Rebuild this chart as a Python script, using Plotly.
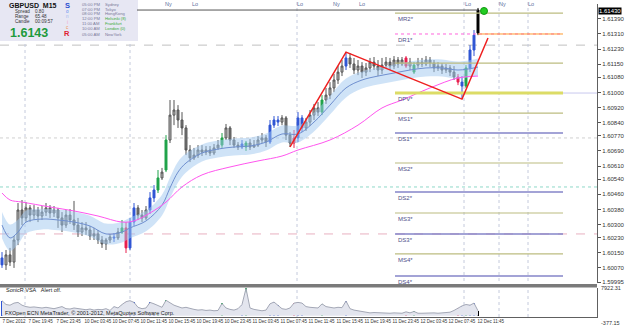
import plotly.graph_objects as go

# ---------------- data ----------------
open_ = [1.60123, 1.60086, 1.60139, 1.60101, 1.60218, 1.60377, 1.60335, 1.60388, 1.60350, 1.60377,
         1.60345, 1.60366, 1.60388, 1.60361, 1.60377, 1.60335, 1.60297, 1.60350, 1.60324, 1.60297,
         1.60260, 1.60282, 1.60271, 1.60239, 1.60250, 1.60218, 1.60197, 1.60218, 1.60234, 1.60229,
         1.60260, 1.60282, 1.60176, 1.60313, 1.60388, 1.60350, 1.60335, 1.60377, 1.60441, 1.60483,
         1.60547, 1.60589, 1.60748, 1.60880, 1.60907, 1.60854, 1.60812, 1.60695, 1.60653, 1.60668,
         1.60695, 1.60684, 1.60695, 1.60679, 1.60706, 1.60721, 1.60759, 1.60812, 1.60748, 1.60721,
         1.60711, 1.60711, 1.60732, 1.60711, 1.60721, 1.60748, 1.60759, 1.60737, 1.60827, 1.60854,
         1.60843, 1.60865, 1.60774, 1.60732, 1.60759, 1.60865, 1.60812, 1.60843, 1.60880, 1.60918,
         1.60896, 1.60960, 1.60986, 1.61024, 1.61066, 1.61108, 1.61140, 1.61183, 1.61151, 1.61119,
         1.61140, 1.61108, 1.61130, 1.61161, 1.61140, 1.61119, 1.61145, 1.61161, 1.61140, 1.61172,
         1.61151, 1.61183, 1.61140, 1.61108, 1.61145, 1.61161, 1.61151, 1.61172, 1.61156, 1.61130,
         1.61140, 1.61119, 1.61130, 1.61108, 1.61082, 1.61055, 1.61034, 1.61130, 1.61225, 1.61315]
high = [1.60154, 1.60165, 1.60176, 1.60239, 1.60414, 1.60430, 1.60419, 1.60403, 1.60403, 1.60393,
        1.60398, 1.60414, 1.60403, 1.60398, 1.60388, 1.60366, 1.60377, 1.60382, 1.60425, 1.60335,
        1.60313, 1.60313, 1.60292, 1.60282, 1.60271, 1.60239, 1.60229, 1.60250, 1.60255, 1.60282,
        1.60324, 1.60313, 1.60335, 1.60414, 1.60403, 1.60377, 1.60398, 1.60472, 1.60509, 1.60589,
        1.60600, 1.60774, 1.60960, 1.60960, 1.60933, 1.60896, 1.60827, 1.60721, 1.60706, 1.60721,
        1.60721, 1.60716, 1.60716, 1.60727, 1.60748, 1.60785, 1.60833, 1.60822, 1.60764, 1.60737,
        1.60748, 1.60743, 1.60753, 1.60748, 1.60769, 1.60785, 1.60774, 1.60854, 1.60875, 1.60875,
        1.60880, 1.60875, 1.60790, 1.60801, 1.60896, 1.60880, 1.60865, 1.60907, 1.60939, 1.60949,
        1.60986, 1.61024, 1.61055, 1.61098, 1.61140, 1.61172, 1.61214, 1.61209, 1.61183, 1.61172,
        1.61161, 1.61156, 1.61183, 1.61188, 1.61172, 1.61183, 1.61188, 1.61183, 1.61193, 1.61188,
        1.61188, 1.61193, 1.61183, 1.61161, 1.61183, 1.61183, 1.61193, 1.61188, 1.61172, 1.61161,
        1.61156, 1.61151, 1.61145, 1.61140, 1.61098, 1.61087, 1.61145, 1.61251, 1.61331, 1.61448]
low = [1.60070, 1.60059, 1.60080, 1.60070, 1.60191, 1.60297, 1.60313, 1.60313, 1.60324, 1.60313,
       1.60324, 1.60345, 1.60335, 1.60340, 1.60282, 1.60260, 1.60282, 1.60303, 1.60271, 1.60234,
       1.60239, 1.60245, 1.60218, 1.60218, 1.60197, 1.60176, 1.60165, 1.60202, 1.60207, 1.60218,
       1.60250, 1.60149, 1.60165, 1.60292, 1.60324, 1.60313, 1.60324, 1.60356, 1.60419, 1.60467,
       1.60536, 1.60578, 1.60732, 1.60827, 1.60812, 1.60774, 1.60668, 1.60631, 1.60642, 1.60653,
       1.60663, 1.60668, 1.60663, 1.60668, 1.60695, 1.60706, 1.60748, 1.60721, 1.60706, 1.60695,
       1.60700, 1.60690, 1.60695, 1.60706, 1.60711, 1.60732, 1.60711, 1.60727, 1.60812, 1.60822,
       1.60827, 1.60748, 1.60711, 1.60706, 1.60737, 1.60790, 1.60796, 1.60822, 1.60854, 1.60875,
       1.60880, 1.60939, 1.60965, 1.61002, 1.61045, 1.61087, 1.61119, 1.61130, 1.61098, 1.61092,
       1.61077, 1.61087, 1.61108, 1.61119, 1.61087, 1.61098, 1.61130, 1.61119, 1.61124, 1.61130,
       1.61140, 1.61130, 1.61119, 1.61098, 1.61130, 1.61135, 1.61140, 1.61135, 1.61108, 1.61114,
       1.61098, 1.61103, 1.61087, 1.61066, 1.61039, 1.60965, 1.61024, 1.61108, 1.61193, 1.61304]
close = [1.60086, 1.60139, 1.60101, 1.60218, 1.60377, 1.60335, 1.60388, 1.60350, 1.60377, 1.60345,
         1.60366, 1.60388, 1.60361, 1.60377, 1.60335, 1.60297, 1.60350, 1.60324, 1.60297, 1.60260,
         1.60282, 1.60271, 1.60239, 1.60250, 1.60218, 1.60197, 1.60218, 1.60234, 1.60229, 1.60260,
         1.60282, 1.60176, 1.60313, 1.60388, 1.60350, 1.60335, 1.60377, 1.60441, 1.60483, 1.60547,
         1.60578, 1.60748, 1.60880, 1.60907, 1.60854, 1.60812, 1.60695, 1.60653, 1.60668, 1.60695,
         1.60684, 1.60695, 1.60679, 1.60706, 1.60721, 1.60759, 1.60812, 1.60748, 1.60721, 1.60711,
         1.60727, 1.60732, 1.60711, 1.60721, 1.60748, 1.60759, 1.60737, 1.60827, 1.60854, 1.60843,
         1.60865, 1.60774, 1.60732, 1.60759, 1.60865, 1.60812, 1.60843, 1.60880, 1.60918, 1.60896,
         1.60960, 1.60986, 1.61024, 1.61066, 1.61108, 1.61140, 1.61183, 1.61151, 1.61119, 1.61140,
         1.61108, 1.61130, 1.61161, 1.61140, 1.61119, 1.61145, 1.61161, 1.61140, 1.61172, 1.61151,
         1.61172, 1.61140, 1.61161, 1.61145, 1.61161, 1.61151, 1.61172, 1.61156, 1.61130, 1.61140,
         1.61119, 1.61130, 1.61108, 1.61082, 1.61055, 1.61034, 1.61130, 1.61225, 1.61304, 1.61437]
# VSA signal per bar: b=blue, g=green, r=red, k=black, .=none
signal = ("b........." ".........." "........b." "grbb...bbg" ".g........"
          ".....g...." "bg.....bbb" "...rbb...." "g.....b..." ".........."
          ".r.g......" "....rbgbbk")
volume = [4300, 3200, 3000, 3600, 3800, 3000, 2600, 2400, 2500, 2300,
          2200, 2400, 2100, 2000, 2300, 2600, 2000, 1900, 2200, 2000,
          1800, 1700, 1900, 1600, 1800, 1700, 2000, 1500, 2600, 2200,
          3200, 4000, 4300, 3800, 2400, 2000, 2200, 3800, 3400, 2800,
          2400, 4400, 3600, 3000, 2600, 2200, 2400, 2000, 1800, 1600,
          1700, 1500, 1600, 1400, 1500, 3500, 2200, 1800, 1600, 2000,
          3200, 7800, 2200, 1800, 1500, 1400, 1600, 3400, 3900, 3000,
          2000, 1800, 2200, 3600, 3800, 3600, 2600, 2400, 2300, 2200,
          3400, 2600, 2400, 2200, 2400, 2300, 4200, 2000, 1600, 1400,
          1000, 900, 800, 900, 800, 700, 800, 700, 800, 700,
          700, 1100, 800, 1200, 700, 700, 800, 700, 800, 700,
          800, 900, 1000, 1500, 2200, 2800, 3200, 3000, 3600, 1400]

ma_idx = [0, 2, 4, 6, 10, 14, 18, 22, 26, 30, 32, 36, 40, 42, 44, 46, 50, 54, 58, 62,
          66, 70, 74, 78, 82, 86, 90, 94, 98, 102, 106, 110, 114, 118, 119]
ma_blue = [1.60297, 1.60229, 1.60260, 1.60313, 1.60329, 1.60324, 1.60313, 1.60292, 1.60250, 1.60260,
           1.60282, 1.60319, 1.60403, 1.60494, 1.60578, 1.60626, 1.60679, 1.60700, 1.60711, 1.60716,
           1.60737, 1.60780, 1.60780, 1.60843, 1.60933, 1.61024, 1.61066, 1.61087, 1.61103, 1.61119,
           1.61130, 1.61130, 1.61119, 1.61130, 1.61135]
band_up = [1.60367, 1.60300, 1.60325, 1.60373, 1.60384, 1.60379, 1.60368, 1.60347, 1.60305, 1.60315,
           1.60337, 1.60374, 1.60458, 1.60549, 1.60633, 1.60676, 1.60724, 1.60745, 1.60756, 1.60761,
           1.60782, 1.60825, 1.60825, 1.60893, 1.60983, 1.61074, 1.61111, 1.61132, 1.61148, 1.61164,
           1.61175, 1.61175, 1.61164, 1.61175, 1.61180]
band_lo = [1.60227, 1.60160, 1.60195, 1.60253, 1.60274, 1.60269, 1.60258, 1.60237, 1.60195, 1.60205,
           1.60227, 1.60264, 1.60348, 1.60439, 1.60523, 1.60576, 1.60634, 1.60655, 1.60666, 1.60671,
           1.60692, 1.60735, 1.60735, 1.60793, 1.60883, 1.60974, 1.61021, 1.61042, 1.61058, 1.61074,
           1.61085, 1.61085, 1.61074, 1.61085, 1.61090]
mag_idx = [0, 2, 5, 12, 18, 24, 30, 33, 37, 41, 45, 50, 57, 64, 70, 74, 82, 89, 95, 100, 107, 114, 119]
ma_mag = [1.60467, 1.60430, 1.60419, 1.60393, 1.60372, 1.60345, 1.60313, 1.60319, 1.60361, 1.60419,
          1.60499, 1.60563, 1.60605, 1.60637, 1.60663, 1.60695, 1.60748, 1.60827, 1.60918, 1.60960,
          1.61024, 1.61077, 1.61087]
zz_idx = [72, 86, 115, 121.5]
zz_val = [1.60711, 1.61214, 1.60965, 1.61289]

pivot_names = ["MR2*", "DR1*", "", "DPV*", "MS1*", "DS1*", "MS2*", "DS2*", "MS3*", "DS3*", "MS4*", "DS4*"]
pivot_vals = [1.61421, 1.61310, 1.61156, 1.60997, 1.60891, 1.60785, 1.60626, 1.60472, 1.60361, 1.60250, 1.60144, 1.60027]

price_ticks = [1.61470, 1.61390, 1.61310, 1.61230, 1.61150, 1.61080, 1.61000, 1.60920, 1.60840, 1.60770,
               1.60690, 1.60610, 1.60540, 1.60460, 1.60380, 1.60300, 1.60230, 1.60150, 1.60070, 1.59995]
time_labels = ["7 Dec 2012", "7 Dec 19:45", "7 Dec 23:45", "10 Dec 03:45", "10 Dec 07:45", "10 Dec 11:45",
               "10 Dec 15:45", "10 Dec 19:45", "10 Dec 23:45", "11 Dec 03:45", "11 Dec 07:45", "11 Dec 11:45",
               "11 Dec 15:45", "11 Dec 19:45", "11 Dec 23:45", "12 Dec 03:45", "12 Dec 07:45", "12 Dec 11:45"]
last_price = 1.61430
vol_max, vol_min = 7922.31, -377.15

# ---------------- geometry helpers ----------------
W, H = 625, 326
MR, MB = 28, 9
PW, PH = W - MR, H - MB


def px_idx(px):
    return (px - 2) / 4.0


def py_paper(py):
    return (PH - py) / PH


def px_paper(px):
    return px / PW


n = len(close)
idx = list(range(n))
FONT = "Liberation Sans"
sig_colors = {"b": "#2f55d4", "g": "#1fa34a", "r": "#e8204f", "k": "#000000"}

fig = go.Figure()
ann = []

# band + moving averages
fig.add_trace(go.Scatter(x=ma_idx, y=band_lo, mode="lines", line=dict(width=0, shape="spline"),
                         hoverinfo="skip", showlegend=False))
fig.add_trace(go.Scatter(x=ma_idx, y=band_up, mode="lines", line=dict(width=0, shape="spline"),
                         fill="tonexty", fillcolor="rgba(160,200,240,0.5)", hoverinfo="skip", showlegend=False))
fig.add_trace(go.Scatter(x=ma_idx, y=ma_blue, mode="lines", line=dict(color="#6f8fcf", width=1, shape="spline"),
                         showlegend=False))
fig.add_trace(go.Scatter(x=mag_idx, y=ma_mag, mode="lines", line=dict(color="#ff55ee", width=1, shape="spline"),
                         showlegend=False))

# pivot lines
piv_x0, piv_x1 = px_idx(395), px_idx(563)
for name, v in zip(pivot_names, pivot_vals):
    if name.startswith("DPV"):
        col, wd, dash = "#dcdc66", 3, "solid"
    elif name.startswith("DR"):
        col, wd, dash = "#ff66dd", 1, "dot"
    elif name.startswith("D"):
        col, wd, dash = "#8585c8", 1.5, "solid"
    else:
        col, wd, dash = "#bcbc80", 1.2, "solid"
    fig.add_trace(go.Scatter(x=[piv_x0, piv_x1], y=[v, v], mode="lines",
                             line=dict(color=col, width=wd, dash=dash), showlegend=False))
    if name:
        ann.append(dict(xref="x", yref="y", x=px_idx(396), y=v, text=name, showarrow=False, xanchor="left",
                        yanchor="top", yshift=-1, font=dict(family=FONT, size=6, color="#50508a")))
fig.add_trace(go.Scatter(x=[119, piv_x1], y=[pivot_vals[1], pivot_vals[1]], mode="lines",
                         line=dict(color="#ff9a30", width=1), showlegend=False))
fig.add_trace(go.Scatter(x=[piv_x1, px_idx(597)], y=[pivot_vals[3], pivot_vals[3]], mode="lines",
                         line=dict(color="#c8c8ee", width=1), showlegend=False))


def masked(keep):
    return ([o if keep(i) else None for i, o in enumerate(open_)],
            [h if keep(i) else None for i, h in enumerate(high)],
            [l if keep(i) else None for i, l in enumerate(low)],
            [c if keep(i) else None for i, c in enumerate(close)])


o, h, l, c = masked(lambda i: signal[i] == ".")
fig.add_trace(go.Candlestick(x=idx, open=o, high=h, low=l, close=c,
                             increasing=dict(line=dict(color="#555555", width=1), fillcolor="#bdbdbd"),
                             decreasing=dict(line=dict(color="#555555", width=1), fillcolor="#777777"),
                             whiskerwidth=0, showlegend=False, hoverinfo="skip"))
for key, col in sig_colors.items():
    o, h, l, c = masked(lambda i, k=key: signal[i] == k)
    fig.add_trace(go.Candlestick(x=idx, open=o, high=h, low=l, close=c,
                                 increasing=dict(line=dict(color=col, width=1), fillcolor=col),
                                 decreasing=dict(line=dict(color=col, width=1), fillcolor=col),
                                 whiskerwidth=0, showlegend=False, hoverinfo="skip"))

fig.add_trace(go.Scatter(x=zz_idx, y=zz_val, mode="lines", line=dict(color="#ee2020", width=1.5),
                         showlegend=False))
fig.add_trace(go.Scatter(x=[px_idx(137), n - 1], y=[1.61437, 1.61437], mode="lines",
                         line=dict(color="#555555", width=1), showlegend=False))
fig.add_trace(go.Scatter(x=[px_idx(484)], y=[1.61432], mode="markers",
                         marker=dict(color="#22cc22", size=7, line=dict(color="#119911", width=1)),
                         showlegend=False))

# volume panel
fig.add_trace(go.Scatter(x=idx, y=volume, yaxis="y2", mode="lines", line=dict(color="#a4a8b6", width=1),
                         fill="tozeroy", fillcolor="#e3e5ee", showlegend=False))
for key, col in sig_colors.items():
    vals = [v if signal[i] == key else None for i, v in enumerate(volume)]
    fig.add_trace(go.Bar(x=idx, y=vals, yaxis="y2", marker=dict(color=col, line=dict(width=0)),
                         width=0.6, showlegend=False))

shapes = []
for v, col, dash in [(1.61251, "#c0c0c0", "dash"), (1.60759, "#d0d0d0", "dot"),
                     (1.60499, "#8fd8c8", "dot"), (1.60250, "#e8b0c0", "dash")]:
    shapes.append(dict(type="line", xref="paper", x0=0, x1=1, yref="y", y0=v, y1=v,
                       line=dict(color=col, width=1, dash=dash), layer="below"))
for pxv in [25, 130, 297, 464, 499, 528]:
    shapes.append(dict(type="line", xref="x", x0=px_idx(pxv), x1=px_idx(pxv), yref="paper", y0=0, y1=1,
                       line=dict(color="#c4cadc", width=1, dash="dot"), layer="below"))
shapes.append(dict(type="rect", xref="paper", x0=0, x1=1, yref="paper", y0=py_paper(287.5), y1=py_paper(284),
                   fillcolor="#7a7a7a", line=dict(width=0)))
shapes.append(dict(type="rect", xref="paper", x0=0, x1=px_paper(138), yref="paper", y0=py_paper(41), y1=1,
                   fillcolor="#e7e7f3", line=dict(width=0), layer="below"))


def txt(px, py, s, size=6, color="#333333", bold=False, anchor="left"):
    ann.append(dict(xref="paper", yref="paper", x=px_paper(px), y=py_paper(py),
                    text=("<b>%s</b>" % s) if bold else s, showarrow=False, xanchor=anchor,
                    yanchor="middle", font=dict(family=FONT, size=size, color=color)))


txt(7, 5, "GBPUSD&nbsp;&nbsp;M15", 7, "#111111", True)
txt(13, 11.5, "Spread", 4.6, "#333333")
txt(33, 11.5, "0.80", 4.6, "#333333")
txt(13, 16.5, "Range", 4.6, "#333333")
txt(33, 16.5, "65.48", 4.6, "#333333")
txt(13, 21.5, "Candle", 4.6, "#333333")
txt(33, 21.5, "00:09:57", 4.6, "#333333")
txt(8, 32.5, "1.6143", 12.5, "#1d9a3c", True)
for ch, py, col, sz, b in [("S", 5, "#2a4fd0", 7.5, True), ("o", 11, "#5a8cf0", 4.6, False),
                           ("n", 16.5, "#a0b8f0", 4.6, False), ("i", 22, "#f0a0c8", 4.6, False),
                           ("c", 27, "#f09050", 4.6, False), ("R", 33, "#e02030", 7.5, True)]:
    txt(67, py, ch, sz, col, b, "center")
for py, t, city, col in [(4, "05:00 PM", "Sydney", "#7a7a9a"), (9, "07:00 PM", "Tokyo", "#7a7a9a"),
                         (14, "08:00 PM", "HongKong", "#7a7a9a"), (19, "12:00 PM", "Helsinki (8)", "#3aaa3a"),
                         (24, "11:00 AM", "Frankfurt", "#3aaa3a"), (29, "10:00 AM", "London (0)", "#3aaa3a"),
                         (34, "05:00 AM", "NewYork", "#7a7a9a")]:
    txt(80, py, t, 4.2, "#7a7a9a")
    txt(103, py, city, 4.2, col)

for pxv, s in [(168, "Ny"), (195, "Lo"), (300, "Lo"), (336, "Ny"), (362, "Lo"),
               (468, "Lo"), (503, "Ny"), (531, "Lo")]:
    txt(pxv, 4, s, 5.5, "#6070a0", anchor="center")

txt(4, 290, "SonicR VSA&nbsp;&nbsp;&nbsp;Alert off.", 5.5, "#222222")
txt(3, 313, "FXOpen ECN MetaTrader, © 2001-2012, MetaQuotes Software Corp.", 5.5, "#222222")

ann.append(dict(xref="paper", yref="y", x=1.0, y=last_price, text="1.61430", showarrow=False,
                xanchor="left", yanchor="middle", xshift=1, bgcolor="#000000", borderpad=0,
                font=dict(family=FONT, size=6, color="#ffffff")))
txt(599, 287.5, "%.2f" % vol_max, 5.5, "#333333")
txt(599, 323, "%.2f" % vol_min, 5.5, "#333333")

fig.update_layout(
    width=W, height=H, margin=dict(l=0, r=MR, t=0, b=MB, autoexpand=False),
    paper_bgcolor="#ffffff", plot_bgcolor="#ffffff",
    showlegend=False, bargap=0, barmode="overlay",
    shapes=shapes,
    xaxis=dict(range=[-0.5, px_idx(PW)], anchor="y2", showgrid=False, zeroline=False, automargin=False,
               rangeslider=dict(visible=False),
               tickvals=[0] + [7 * k - 0.5 for k in range(1, len(time_labels) - 1)] + [118.75],
               ticktext=time_labels, ticklabelposition="outside right", ticks="", tickangle=0,
               tickfont=dict(family=FONT, size=4.5, color="#333333"),
               showline=True, linecolor="#606060", linewidth=1),
    yaxis=dict(domain=[py_paper(283), py_paper(4)], range=[1.59990, 1.61469], side="right", automargin=False,
               tickvals=price_ticks, tickformat=".5f", ticks="outside", ticklen=3, tickcolor="#555555",
               tickfont=dict(family=FONT, size=6, color="#333333"), showgrid=False, zeroline=False,
               showline=True, linecolor="#606060", linewidth=1),
    yaxis2=dict(domain=[0, py_paper(288)], range=[vol_min, vol_max], side="right", showticklabels=False,
                automargin=False, showgrid=False, zeroline=False, showline=True, linecolor="#606060",
                linewidth=1),
)
fig.layout.annotations = ann

fig.write_html("out.html")
